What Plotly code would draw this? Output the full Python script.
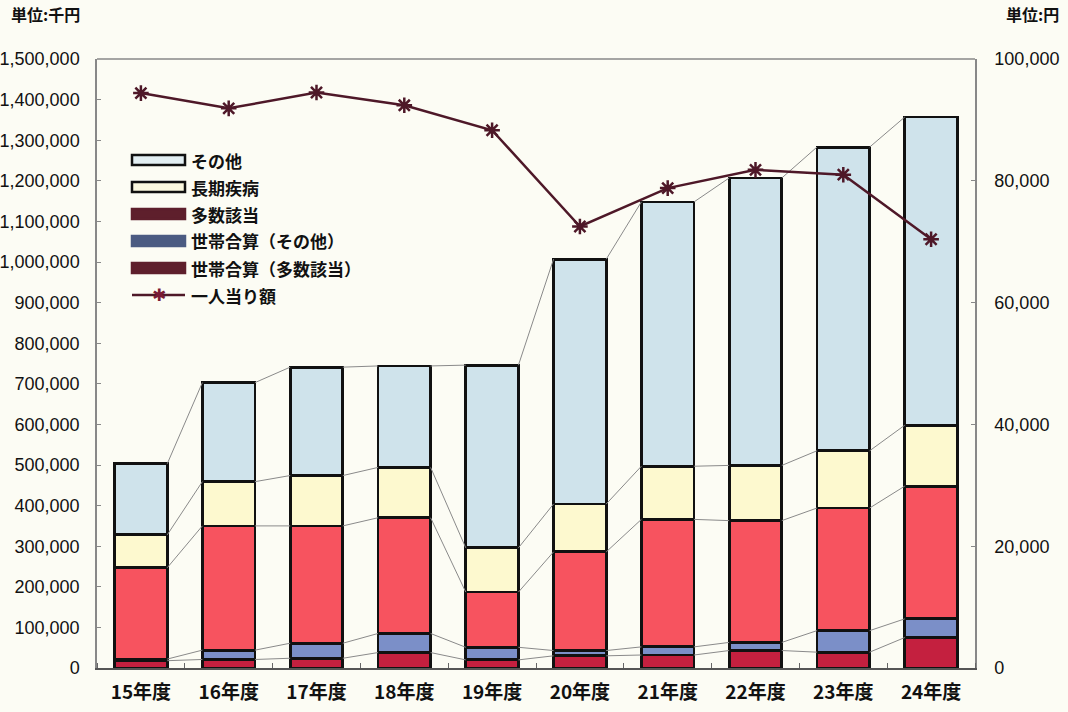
import plotly.graph_objects as go

categories = ["15年度", "16年度", "17年度", "18年度", "19年度",
              "20年度", "21年度", "22年度", "23年度", "24年度"]
# 単位: 千円
setai_tasu = [18000, 21000, 24000, 38000, 20000, 30000, 32000, 43000, 39000, 75000]
setai_sonota = [4000, 23000, 37000, 47000, 31000, 13000, 20000, 20000, 53000, 46000]
tasu = [225000, 306000, 289000, 285000, 136000, 243000, 314000, 300000, 302000, 327000]
choki = [81000, 109000, 124000, 124000, 109000, 118000, 131000, 136000, 141000, 150000]
sonota = [175000, 244000, 267000, 250000, 450000, 603000, 651000, 708000, 748000, 759000]
# 単位: 円
per_person = [94400, 91900, 94500, 92400, 88300, 72500, 78800, 81800, 81000, 70400]

# (name, values, bar colour, legend swatch fill, legend swatch outline)
series = [
    ("世帯合算（多数該当）", setai_tasu, "#c4203f", "#5e1f2c", "#5e1f2c"),
    ("世帯合算（その他）", setai_sonota, "#7b8fc8", "#4b5b82", "#4b5b82"),
    ("多数該当", tasu, "#f7535f", "#5e1f2c", "#5e1f2c"),
    ("長期疾病", choki, "#fdf9cf", "#fbf8df", "#111111"),
    ("その他", sonota, "#cfe3eb", "#e2eef2", "#111111"),
]
legend_order = ["その他", "長期疾病", "多数該当", "世帯合算（その他）", "世帯合算（多数該当）"]
line_name = "一人当り額"

xs = list(range(len(categories)))
bar_w = 0.6
font_num = "Liberation Sans, Arial, sans-serif"
font_jp = "Noto Sans CJK JP, sans-serif"
line_col = "#4e1828"

# plot-area geometry (pixels) used for positioning the legend block
W, H = 1068, 712
ML, MR, MT, MB = 97, 93, 59, 44
PW, PH = W - ML - MR, H - MT - MB


def px(x):
    return (x - ML) / PW


def py(y):
    return (H - MB - y) / PH


fig = go.Figure()

# connector lines between bars
cum = [0] * len(xs)
for name, vals, col, lf, lo in series:
    cum = [c + v for c, v in zip(cum, vals)]
    cx, cy = [], []
    for i in range(len(xs) - 1):
        cx += [xs[i] + bar_w / 2, xs[i + 1] - bar_w / 2, None]
        cy += [cum[i], cum[i + 1], None]
    fig.add_trace(go.Scatter(x=cx, y=cy, mode="lines",
                             line=dict(color="#8a8a8a", width=1),
                             showlegend=False, hoverinfo="skip"))

for name, vals, col, lf, lo in series:
    fig.add_trace(go.Bar(x=xs, y=vals, name=name, width=bar_w,
                         marker=dict(color=col, line=dict(color="#111", width=2.8)),
                         showlegend=False))

fig.add_trace(go.Scatter(x=xs, y=per_person, name=line_name, yaxis="y2",
                         mode="lines+markers",
                         line=dict(color=line_col, width=2.5),
                         marker=dict(symbol="asterisk-open", size=13,
                                     line=dict(color="#7a1a35", width=2.5)),
                         showlegend=False))

# legend block (drawn inside the plot, like the original)
lookup = {s[0]: s for s in series}
shapes = [dict(type="line", xref="paper", yref="paper", x0=0, x1=1, y0=1, y1=1,
               line=dict(color="#888", width=1.5))]
annotations = []
row0, step = 160, 27
sw_x0, sw_x1, txt_x = 132, 185, 189
for k, nm in enumerate(legend_order):
    _, _, _, lf, lo = lookup[nm]
    yc = row0 + k * step
    shapes.append(dict(type="rect", xref="paper", yref="paper",
                       x0=px(sw_x0), x1=px(sw_x1), y0=py(yc + 5), y1=py(yc - 5),
                       fillcolor=lf, line=dict(color=lo, width=2.5)))
    annotations.append(dict(text=nm, xref="paper", yref="paper", x=px(txt_x), y=py(yc),
                            xanchor="left", yanchor="middle", showarrow=False,
                            font=dict(family=font_jp, size=17, color="#111", weight="bold")))
yc = row0 + len(legend_order) * step
shapes.append(dict(type="line", xref="paper", yref="paper",
                   x0=px(sw_x0), x1=px(sw_x1), y0=py(yc), y1=py(yc),
                   line=dict(color=line_col, width=2.5)))
annotations.append(dict(text="✱", xref="paper", yref="paper", x=px((sw_x0 + sw_x1) / 2),
                        y=py(yc), xanchor="center", yanchor="middle", showarrow=False,
                        font=dict(family="DejaVu Sans", size=17, color="#7a1a35")))
annotations.append(dict(text=line_name, xref="paper", yref="paper", x=px(txt_x), y=py(yc),
                        xanchor="left", yanchor="middle", showarrow=False,
                        font=dict(family=font_jp, size=17, color="#111", weight="bold")))

# unit labels
annotations.append(dict(text="単位:千円", xref="paper", yref="paper", x=px(9), y=py(14),
                        xanchor="left", yanchor="middle", showarrow=False,
                        font=dict(family=font_jp, size=16, color="#111", weight="bold")))
annotations.append(dict(text="単位:円", xref="paper", yref="paper", x=px(1061), y=py(14),
                        xanchor="right", yanchor="middle", showarrow=False,
                        font=dict(family=font_jp, size=16, color="#111", weight="bold")))

fig.update_layout(
    width=W, height=H,
    margin=dict(l=ML, r=MR, t=MT, b=MB),
    paper_bgcolor="#fcfcf4", plot_bgcolor="#fcfcf4",
    barmode="stack",
    showlegend=False,
    font=dict(family=font_jp, size=15, color="#111"),
    xaxis=dict(range=[-0.5, 9.5], tickvals=xs, ticktext=categories,
               tickfont=dict(family=font_jp, size=19, color="#111", weight="bold"),
               ticklabelstandoff=6, automargin=False,
               showgrid=False, zeroline=False, showline=True,
               linecolor="#555", linewidth=1.5, mirror=False, ticks="",
               minor=dict(tickvals=[i + 0.5 for i in range(-1, 10)], ticks="inside",
                          ticklen=5, tickcolor="#666")),
    yaxis=dict(range=[0, 1500000], dtick=100000, tickformat=",d",
               tickfont=dict(family=font_num, size=18, color="#111"),
               ticklabelstandoff=12, automargin=False,
               showgrid=False, zeroline=False, showline=True,
               linecolor="#888", linewidth=1.5, ticks="inside", ticklen=4,
               tickcolor="#888"),
    yaxis2=dict(range=[0, 100000], dtick=20000, tickformat=",d",
                overlaying="y", side="right",
                tickfont=dict(family=font_num, size=18, color="#111"),
                ticklabelstandoff=14, automargin=False,
                showgrid=False, zeroline=False, showline=True,
                linecolor="#888", linewidth=1.5, ticks="inside", ticklen=4,
                tickcolor="#888"),
    shapes=shapes,
    annotations=annotations,
)

fig.write_html("out.html", config={"displayModeBar": False},
               post_script="document.body.style.margin='0px';")
